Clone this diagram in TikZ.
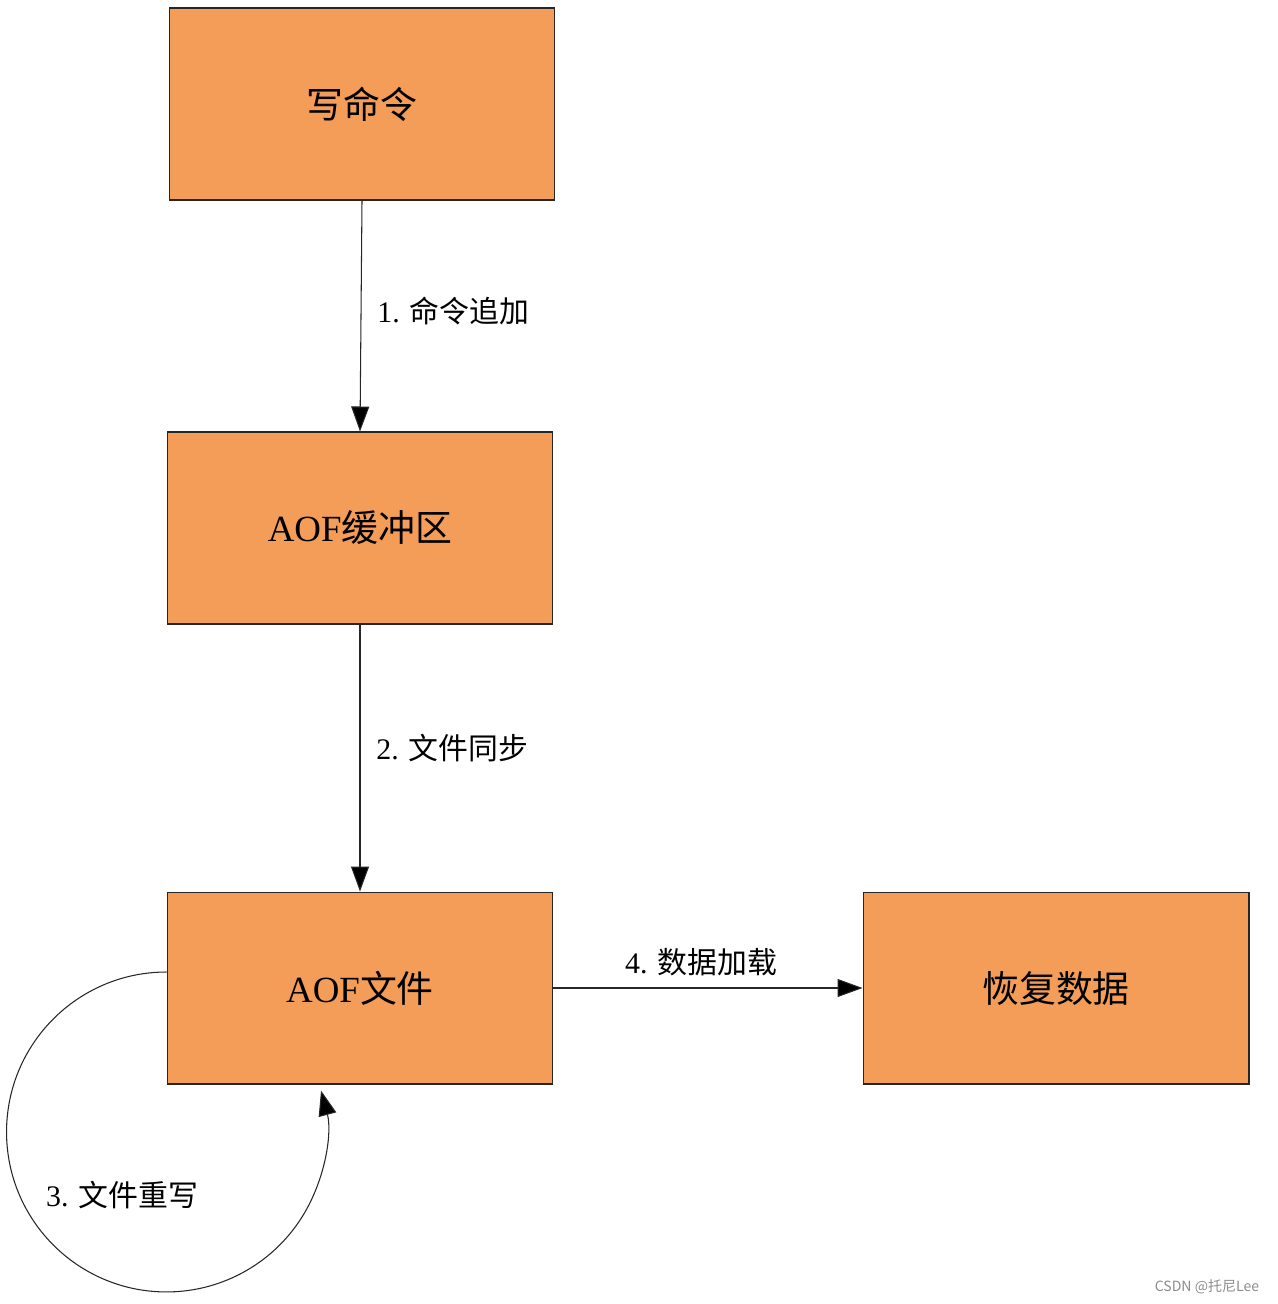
\documentclass[tikz,border=0pt]{standalone}
\usepackage{fontspec}
\setmainfont{Liberation Serif}
\newfontfamily\cjk{Noto Sans CJK SC}
\usetikzlibrary{arrows.meta,positioning}
\definecolor{boxorange}{HTML}{F49D58}
\tikzset{
    box/.style={draw=black!85, line width=0.6pt, rectangle, fill=boxorange, minimum width=7.72cm, minimum height=3.84cm, font=\fontsize{21}{25}\selectfont},
    flow/.style={line width=0.6pt, draw=black!85, -{Triangle[length=0.5cm,width=0.36cm,fill=black]}},
    lbl/.style={font=\fontsize{17}{20}\selectfont}
}
\begin{document}
\begin{tikzpicture}[x=0.02cm, y=-0.02cm]
    \useasboundingbox (0,0) rectangle (1277,1304);

    \node[box] (write) at (362,104) {\cjk 写命令};
    \node[box] (buffer) at (360,528) {AOF\cjk 缓冲区};
    \node[box] (file) at (360,988) {AOF\cjk 文件};
    \node[box] (restore) at (1056,988) {\cjk 恢复数据};

    \draw[flow] (write.south) -- node[lbl, right=0.2cm, yshift=0.1cm] {1. \cjk 命令追加} (buffer.north);
    \draw[flow] (buffer.south) -- node[lbl, right=0.2cm, yshift=0.2cm] {2. \cjk 文件同步} (file.north);
    \draw[flow] (file.east) -- node[lbl, above=0.12cm, xshift=-0.14cm] {4. \cjk 数据加载} (restore.west);

    % rewrite loop
    \draw[flow] ([yshift=0.32cm]file.west) arc[start angle=90, end angle=375, radius=3.2cm];
    \node[lbl] (rewrite) at (122,1195) {3. \cjk 文件重写};

    \node[font=\fontsize{8}{10}\selectfont\cjk, text=black!45] (mark) at (1207,1287) {CSDN @托尼Lee};
\end{tikzpicture}
\end{document}
